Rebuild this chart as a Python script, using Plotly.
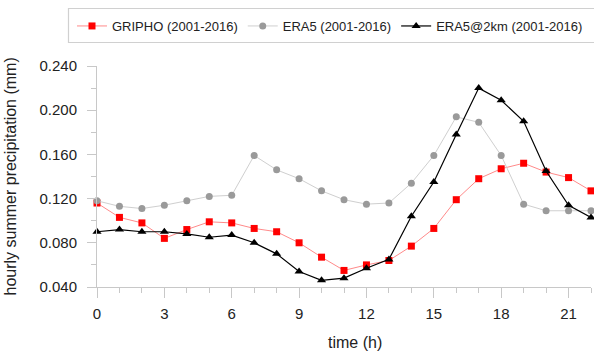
import plotly.graph_objects as go

hours = list(range(23))

gripho = [0.116, 0.103, 0.098, 0.084, 0.092, 0.099, 0.098, 0.093, 0.090, 0.080,
          0.067, 0.055, 0.060, 0.064, 0.077, 0.093, 0.119, 0.138, 0.147, 0.152,
          0.144, 0.139, 0.127]
era5 = [0.118, 0.113, 0.111, 0.114, 0.118, 0.122, 0.123, 0.159, 0.146, 0.138,
        0.127, 0.119, 0.115, 0.116, 0.134, 0.159, 0.194, 0.189, 0.159, 0.115,
        0.109, 0.109, 0.109]
era5_2km = [0.090, 0.092, 0.090, 0.090, 0.088, 0.085, 0.087, 0.080, 0.070, 0.054,
            0.046, 0.048, 0.057, 0.065, 0.104, 0.135, 0.178, 0.220, 0.209, 0.190,
            0.145, 0.114, 0.103]

names = ["GRIPHO (2001-2016)", "ERA5 (2001-2016)", "ERA5@2km (2001-2016)"]

FONT = "Liberation Sans, Arial, sans-serif"
AX = "#c8c8c8"

# plot-area pixel geometry (for positioning paper-referenced decorations)
L, R, T, B, W, H = 97, 3, 66, 65, 594, 352
PW, PH = W - L - R, H - T - B
def px_x(p):
    return (p - L) / PW
def px_y(p):
    return (H - B - p) / PH

fig = go.Figure()
fig.add_trace(go.Scatter(x=hours, y=gripho, name=names[0], mode="lines+markers",
                         line=dict(color="#ff8a8a", width=1),
                         marker=dict(symbol="square", size=7, color="#ff0000"),
                         cliponaxis=False))
fig.add_trace(go.Scatter(x=hours, y=era5, name=names[1], mode="lines+markers",
                         line=dict(color="#cfcfcf", width=1),
                         marker=dict(symbol="circle", size=7, color="#9a9a9a"),
                         cliponaxis=False))
fig.add_trace(go.Scatter(x=hours, y=era5_2km, name=names[2], mode="lines+markers",
                         line=dict(color="#000000", width=1.2),
                         marker=dict(symbol="triangle-up", size=8, color="#000000"),
                         cliponaxis=False))

fig.update_layout(
    width=W, height=H,
    margin=dict(l=L, r=R, t=T, b=B),
    paper_bgcolor="white", plot_bgcolor="white",
    font=dict(family=FONT, color="#222222"),
    showlegend=True,
    legend=dict(orientation="h", x=px_x(72), y=px_y(11), xanchor="left", yanchor="top",
                bgcolor="rgba(0,0,0,0)", borderwidth=0,
                font=dict(size=13, family=FONT, color="#222222")),
    xaxis=dict(range=[0, 22], tick0=0, dtick=3, showline=True, linecolor=AX, linewidth=1,
               ticks="outside", ticklen=10, tickcolor=AX, tickwidth=1,
               showgrid=False, zeroline=False,
               tickfont=dict(size=15, family=FONT, color="#222222"),
               ticklabelstandoff=3,
               minor=dict(dtick=1, ticks="outside", ticklen=5, tickcolor=AX, showgrid=False)),
    yaxis=dict(range=[0.04, 0.24], tick0=0.04, dtick=0.04, tickformat=".3f",
               showline=True, linecolor=AX, linewidth=1,
               ticks="outside", ticklen=9, tickcolor=AX, tickwidth=1,
               showgrid=False, zeroline=False,
               tickfont=dict(size=15, family=FONT, color="#222222"),
               ticklabelstandoff=7,
               minor=dict(dtick=0.02, ticks="outside", ticklen=5, tickcolor=AX, showgrid=False)),
    shapes=[dict(type="rect", xref="paper", yref="paper",
                 x0=px_x(68.5), x1=px_x(600), y0=px_y(42.5), y1=px_y(8.5),
                 line=dict(color="#d0d0d0", width=1.2), fillcolor="rgba(0,0,0,0)")],
    annotations=[
        dict(text="hourly summer precipitation (mm)", xref="paper", yref="paper",
             x=px_x(10), y=0.5, xanchor="center", yanchor="middle", textangle=-90,
             showarrow=False, font=dict(size=16, family=FONT, color="#222222")),
        dict(text="time (h)", xref="paper", yref="paper",
             x=px_x(355), y=px_y(342), xanchor="center", yanchor="middle",
             showarrow=False, font=dict(size=16, family=FONT, color="#222222")),
    ],
)

fig.write_html("out.html")
